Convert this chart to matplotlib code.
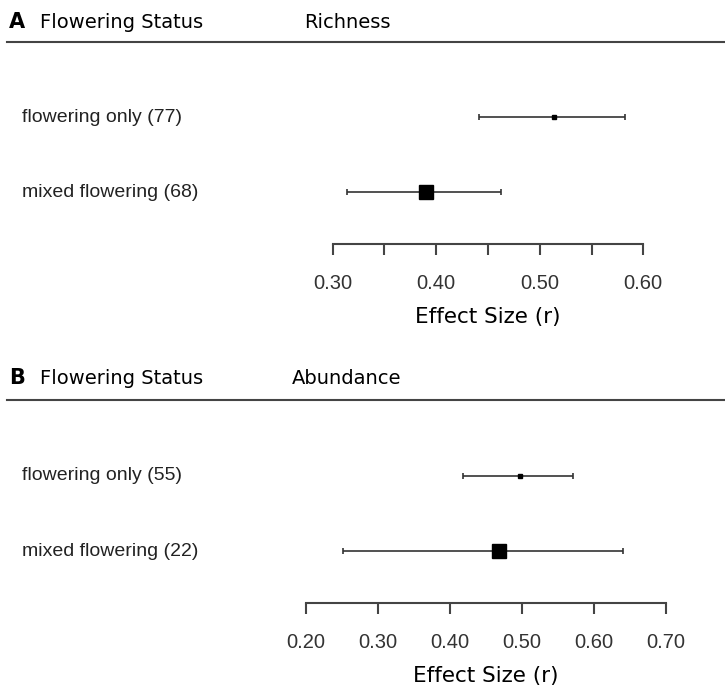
import matplotlib.pyplot as plt
from matplotlib.lines import Line2D

# figure is 725 x 691 px
W, H = 725, 691

# Panel A - Richness
rich_labels = ['flowering only (77)', 'mixed flowering (68)']
rich_est = [0.514, 0.390]
rich_lo = [0.441, 0.314]
rich_hi = [0.582, 0.463]
rich_size = [2.5, 10]
rich_ticks = [0.30, 0.35, 0.40, 0.45, 0.50, 0.55, 0.60]
rich_ticklabels = ['0.30', '', '0.40', '', '0.50', '', '0.60']

# Panel B - Abundance
abun_labels = ['flowering only (55)', 'mixed flowering (22)']
abun_est = [0.497, 0.469]
abun_lo = [0.418, 0.252]
abun_hi = [0.571, 0.641]
abun_size = [2.5, 9.5]
abun_ticks = [0.20, 0.30, 0.40, 0.50, 0.60, 0.70]
abun_ticklabels = ['0.20', '0.30', '0.40', '0.50', '0.60', '0.70']

fig = plt.figure(figsize=(W / 100, H / 100), dpi=100)
fig.patch.set_facecolor('white')


def fx(px):
    return px / W


def fy(py):
    return 1 - py / H


def panel(letter, title, labels, est, lo, hi, sizes, ticks, ticklabels,
          header_y, line_y, row_y, axis_y, x0, x1):
    # header
    fig.text(fx(9), fy(header_y), letter, fontsize=15, fontweight='bold',
             family='DejaVu Sans', va='center', ha='left')
    fig.text(fx(40), fy(header_y), 'Flowering Status', fontsize=14,
             family='DejaVu Sans', va='center', ha='left')
    fig.text(fx(347), fy(header_y), title, fontsize=14,
             family='DejaVu Sans', va='center', ha='center')
    fig.add_artist(Line2D([fx(7), 1.0], [fy(line_y), fy(line_y)],
                          color='#444444', lw=1.5))

    # forest axes: bottom spine at axis_y, top at row_y[0] - 25
    top = row_y[0] - 25
    ax = fig.add_axes([fx(x0), fy(axis_y), fx(x1) - fx(x0),
                       (axis_y - top) / H])
    ax.set_xlim(ticks[0], ticks[-1])
    n = len(labels)
    ypos = list(range(n, 0, -1))
    step = row_y[1] - row_y[0]
    ax.set_ylim(1 - (axis_y - row_y[-1]) / step, n + (row_y[0] - top) / step)

    for i in range(n):
        ax.plot([lo[i], hi[i]], [ypos[i], ypos[i]], color='#333333', lw=1.2,
                solid_capstyle='butt', clip_on=False)
        ax.plot([lo[i], hi[i]], [ypos[i], ypos[i]], ls='none', marker='|',
                ms=5, mew=1.2, color='#333333', clip_on=False)
        ax.plot(est[i], ypos[i], marker='s', ms=sizes[i], color='black',
                mec='black', clip_on=False)
        fig.text(fx(22), fy(row_y[i]), labels[i], fontsize=14,
                 family='Liberation Sans', color='#222222',
                 va='center', ha='left')

    for s in ['top', 'left', 'right']:
        ax.spines[s].set_visible(False)
    ax.spines['bottom'].set_color('#444444')
    ax.spines['bottom'].set_linewidth(1.5)
    ax.set_yticks([])
    ax.set_xticks(ticks)
    ax.set_xticklabels(ticklabels, family='Liberation Sans', fontsize=14.5,
                       color='#333333')
    ax.tick_params(axis='x', direction='out', length=8, width=1.5,
                   color='#444444', pad=13.5)
    ax.set_xlabel('Effect Size (r)', family='DejaVu Sans', fontsize=15.5,
                  labelpad=10.5)
    ax.patch.set_alpha(0)
    return ax


panel('A', 'Richness', rich_labels, rich_est, rich_lo, rich_hi, rich_size,
      rich_ticks, rich_ticklabels,
      header_y=22, line_y=42, row_y=[117, 192], axis_y=244, x0=332.7, x1=643.3)
panel('B', 'Abundance', abun_labels, abun_est, abun_lo, abun_hi, abun_size,
      abun_ticks, abun_ticklabels,
      header_y=378, line_y=400, row_y=[476, 551], axis_y=603, x0=305.7, x1=665.7)

fig.savefig('out.png', dpi=100)
